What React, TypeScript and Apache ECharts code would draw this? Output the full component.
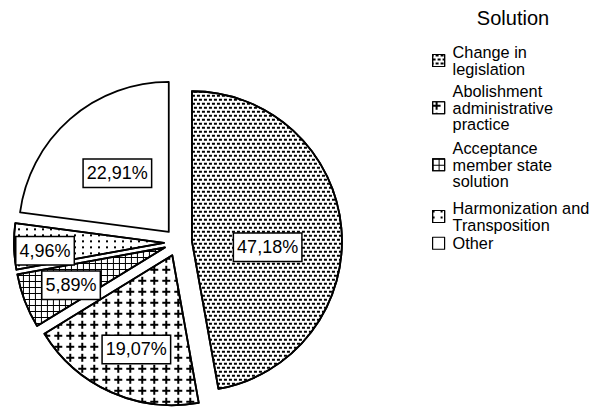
import React, { useEffect, useRef } from 'react';
import * as echarts from 'echarts';

const legendTitle = 'Solution';
const categories = [
  'Change in\nlegislation',
  'Abolishment\nadministrative\npractice',
  'Acceptance\nmember state\nsolution',
  'Harmonization and\nTransposition',
  'Other',
];
const shares = [47.18, 19.07, 5.89, 4.96, 22.91];

// styling / layout (not data)
const FONT = '"Liberation Sans", Arial, Helvetica, sans-serif';
const DECALS: any[] = [
  { symbol: 'rect', symbolSize: 1, color: '#000', dashArrayX: [[3, 2], [1, 2, 2, 0]], dashArrayY: [2, 2] },
  { symbol: 'path://M3,0h2v8h-2z M0,3h8v2h-8z', symbolSize: 1, symbolKeepAspect: false, color: '#000', dashArrayX: [8, 4], dashArrayY: [8, 3] },
  { symbol: 'path://M0,0h6v1h-5v5h-1z', symbolSize: 1, symbolKeepAspect: false, color: '#000', dashArrayX: [6, 0], dashArrayY: [6, 0] },
  { symbol: 'rect', symbolSize: 1, color: '#000', dashArrayX: [2, 6], dashArrayY: [2, 4] },
  null,
];
const LABEL_NUDGE = [[-2, 13], [-4, 23], [-21, 10], [-41, 6], [0, 0]];
const LEGEND_TOPS = [44, 83, 140, 200, 235];

export default function App() {
  const ref = useRef<HTMLDivElement>(null);
  useEffect(() => {
    if (!ref.current) return;
    const chart = echarts.init(ref.current, undefined, { renderer: 'svg' });
    const option: any = {
      animation: false,
      backgroundColor: '#fff',
      title: {
        text: legendTitle,
        left: 513,
        top: 8,
        padding: 0,
        textAlign: 'center',
        textStyle: { fontFamily: FONT, fontSize: 20, fontWeight: 'normal', color: '#000' },
      },
      legend: categories.map((name, i) => ({
        data: [name],
        orient: 'vertical',
        left: 432,
        top: LEGEND_TOPS[i],
        padding: 0,
        itemWidth: 12,
        itemHeight: 12,
        itemGap: 0,
        icon: 'rect',
        selectedMode: false,
        itemStyle: { borderColor: '#000', borderWidth: 1.2 },
        textStyle: { fontFamily: FONT, fontSize: 16.3, lineHeight: 16.5, color: '#000', padding: [0, 0, 0, 3] },
      })),
      series: [
        {
          type: 'pie',
          center: [178, 242.5],
          radius: 150,
          startAngle: 90,
          clockwise: true,
          selectedMode: 'multiple',
          selectedOffset: 14,
          avoidLabelOverlap: false,
          emphasis: { disabled: true },
          itemStyle: { color: '#fff', borderColor: '#000', borderWidth: 1.8 },
          select: { itemStyle: { color: '#fff', borderColor: '#000', borderWidth: 1.8 } },
          label: {
            show: true,
            position: 'inside',
            formatter: (p: any) => Number(p.value).toFixed(2).replace('.', ',') + '%',
            fontFamily: FONT,
            fontSize: 18,
            lineHeight: 19,
            color: '#000',
            backgroundColor: '#fff',
            borderColor: '#000',
            borderWidth: 1.5,
            padding: [5, 3, 3, 3],
          },
          labelLine: { show: false },
          labelLayout: (params: any) => ({
            dx: LABEL_NUDGE[params.dataIndex][0],
            dy: LABEL_NUDGE[params.dataIndex][1],
          }),
          data: categories.map((name, i) => ({
            name,
            value: shares[i],
            selected: true,
            itemStyle: DECALS[i] ? { color: '#fff', decal: DECALS[i] } : { color: '#fff' },
          })),
        },
      ],
    };
    chart.setOption(option);
    return () => chart.dispose();
  }, []);
  return (
    <div
      ref={ref}
      style={{ position: 'fixed', left: 0, top: 0, width: 595, height: 407, background: '#fff' }}
    />
  );
}
